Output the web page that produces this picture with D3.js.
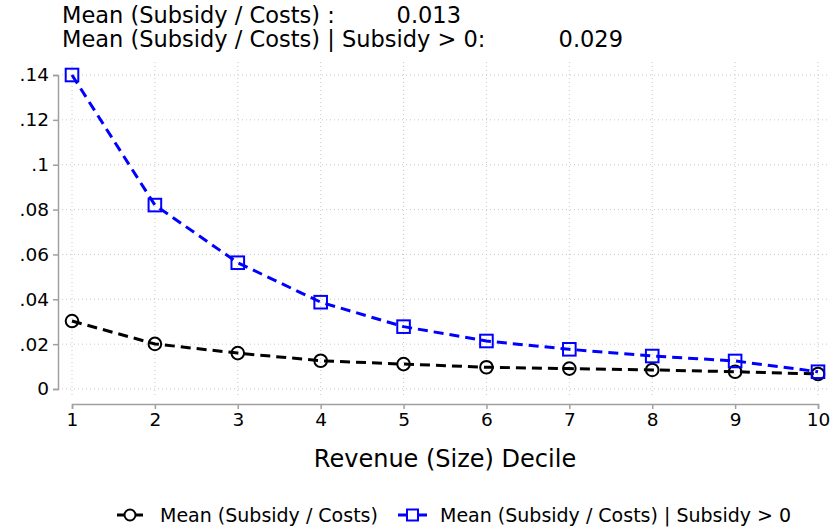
<!DOCTYPE html>
<html>
<head>
<meta charset="utf-8">
<script src="https://cdn.jsdelivr.net/npm/d3@7"></script>
<style>
  body { margin: 0; background: #fff; }
  svg { display: block; font-family: "DejaVu Sans", sans-serif; }
</style>
</head>
<body>
<svg id="chart" width="833" height="531"></svg>
<script>
// Revenue deciles and the two mean series
const deciles = [1, 2, 3, 4, 5, 6, 7, 8, 9, 10];
const meanAll = [0.0303, 0.0201, 0.0160, 0.0126, 0.0111, 0.0097, 0.0091, 0.0085, 0.0077, 0.0067];
const meanPositive = [0.1400, 0.0820, 0.0563, 0.0387, 0.0278, 0.0214, 0.0177, 0.0147, 0.0125, 0.0077];
const yTicks = [0, 0.02, 0.04, 0.06, 0.08, 0.10, 0.12, 0.14];
const yTickLabels = ["0", ".02", ".04", ".06", ".08", ".1", ".12", ".14"];
const headerLabels = ["Mean (Subsidy / Costs) :", "Mean (Subsidy / Costs) | Subsidy > 0:"];
const headerValues = ["0.013", "0.029"];
const seriesNames = ["Mean (Subsidy / Costs)", "Mean (Subsidy / Costs) | Subsidy > 0"];

const svg = d3.select("#chart");
const x = d3.scaleLinear().domain([1, 10]).range([72, 818]);
const y = d3.scaleLinear().domain([0, 0.14]).range([389, 75]);

// Dotted grid
const grid = svg.append("g").attr("stroke", "#c8c8c8").attr("stroke-width", 1)
  .attr("stroke-dasharray", "1,3");
grid.selectAll(".gy").data(yTicks).join("line")
  .attr("x1", 62).attr("x2", 830)
  .attr("y1", d => y(d)).attr("y2", d => y(d));
grid.selectAll(".gx").data(deciles).join("line")
  .attr("x1", d => x(d)).attr("x2", d => x(d))
  .attr("y1", 62).attr("y2", 398);

// Y axis
const yAxis = svg.append("g").attr("transform", "translate(58,0)")
  .call(d3.axisLeft(y).tickValues(yTicks).tickSize(5).tickPadding(4)
    .tickFormat((d, i) => yTickLabels[i]));
yAxis.select(".domain").attr("stroke", "#a0a0a0").attr("stroke-width", 1.5);
yAxis.selectAll(".tick line").attr("stroke", "#a0a0a0").attr("stroke-width", 1.5);
yAxis.selectAll(".tick text").attr("font-size", 18.5).attr("fill", "#000")
  .attr("font-family", "DejaVu Sans");

// X axis
const xAxis = svg.append("g").attr("transform", "translate(0,404)")
  .call(d3.axisBottom(x).tickValues(deciles).tickSize(5).tickPadding(4)
    .tickFormat(d3.format("d")));
xAxis.select(".domain").attr("stroke", "#a0a0a0").attr("stroke-width", 1.5);
xAxis.selectAll(".tick line").attr("stroke", "#a0a0a0").attr("stroke-width", 1.5);
xAxis.selectAll(".tick text").attr("font-size", 18.5).attr("fill", "#000")
  .attr("font-family", "DejaVu Sans");

svg.append("text").attr("x", 445).attr("y", 467).attr("text-anchor", "middle")
  .attr("font-size", 24).text("Revenue (Size) Decile");

// Series lines and markers
const line = d3.line().x((d, i) => x(deciles[i])).y(d => y(d));
const series = [
  { values: meanAll, color: "#000", shape: "circle" },
  { values: meanPositive, color: "#0000ff", shape: "square" }
];
series.forEach(s => {
  svg.append("path").datum(s.values).attr("d", line)
    .attr("fill", "none").attr("stroke", s.color).attr("stroke-width", 3)
    .attr("stroke-dasharray", "10,6");
  const g = svg.append("g");
  if (s.shape === "circle") {
    g.selectAll("circle").data(s.values).join("circle")
      .attr("cx", (d, i) => x(deciles[i])).attr("cy", d => y(d)).attr("r", 6.3)
      .attr("fill", "none").attr("stroke", s.color).attr("stroke-width", 2);
  } else {
    g.selectAll("rect").data(s.values).join("rect")
      .attr("x", (d, i) => x(deciles[i]) - 6.3).attr("y", d => y(d) - 6.3)
      .attr("width", 12.6).attr("height", 12.6)
      .attr("fill", "none").attr("stroke", s.color).attr("stroke-width", 2);
  }
});

// Header summary lines
const header = svg.append("g").attr("font-size", 22.5).attr("fill", "#000");
header.append("text").attr("x", 62).attr("y", 23).text(headerLabels[0]);
header.append("text").attr("x", 461).attr("y", 23).attr("text-anchor", "end").text(headerValues[0]);
header.append("text").attr("x", 62).attr("y", 47).text(headerLabels[1]);
header.append("text").attr("x", 623).attr("y", 47).attr("text-anchor", "end").text(headerValues[1]);

// Legend
const legend = svg.append("g").attr("font-size", 19);
const lg1 = legend.append("g");
lg1.append("line").attr("x1", 117).attr("x2", 143).attr("y1", 515).attr("y2", 515)
  .attr("stroke", "#000").attr("stroke-width", 3);
lg1.append("circle").attr("cx", 130).attr("cy", 515).attr("r", 5.5)
  .attr("fill", "#fff").attr("stroke", "#000").attr("stroke-width", 2);
lg1.append("text").attr("x", 160).attr("y", 522).text(seriesNames[0]);
const lg2 = legend.append("g");
lg2.append("line").attr("x1", 398).attr("x2", 427).attr("y1", 515).attr("y2", 515)
  .attr("stroke", "#0000ff").attr("stroke-width", 3);
lg2.append("rect").attr("x", 407).attr("y", 509.5).attr("width", 11).attr("height", 11)
  .attr("fill", "#fff").attr("stroke", "#0000ff").attr("stroke-width", 2);
lg2.append("text").attr("x", 440).attr("y", 522).text(seriesNames[1]);
</script>
</body>
</html>
